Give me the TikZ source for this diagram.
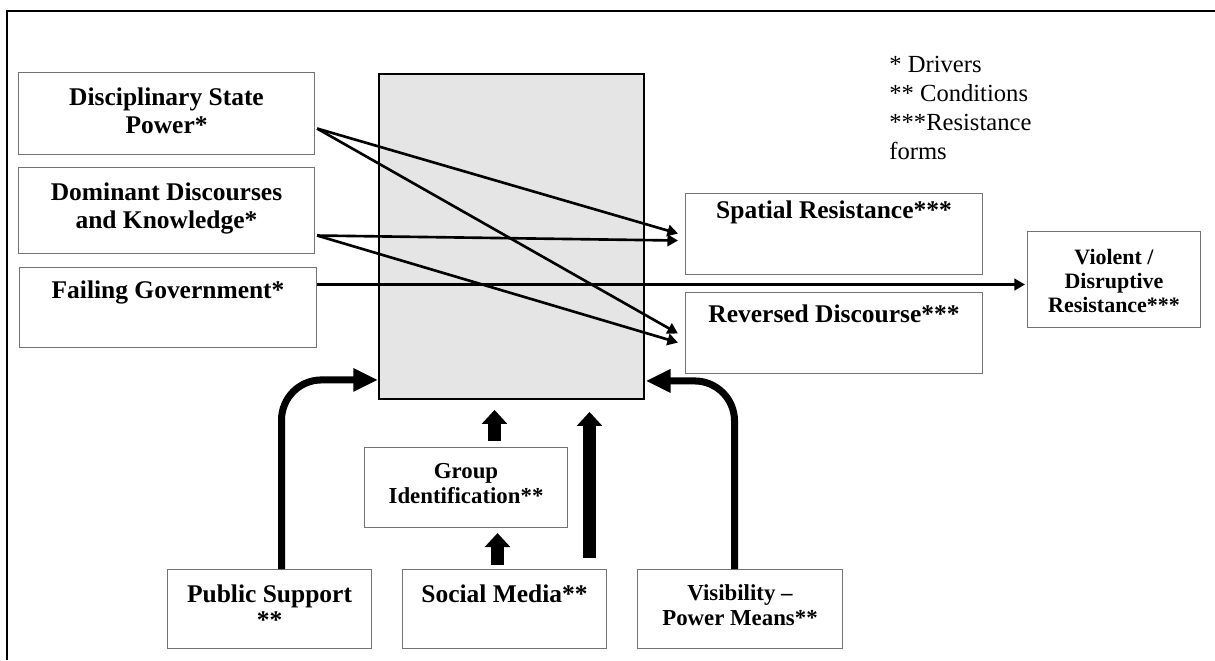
\documentclass[tikz,border=0pt]{standalone}
\usepackage{fontspec}
\setmainfont{Liberation Serif}
\usetikzlibrary{arrows.meta,calc}

% one drawing unit
\newdimen\pxu \pxu=0.02cm
% box contents: width, height, first baseline, line skip, text (top aligned)
\newcommand\bxt[5]{\parbox[c][#2\pxu][t]{#1\pxu}{\centering
  \baselineskip=#4\pxu\relax\rule{0pt}{#3\pxu}#5\par}}

\tikzset{
  box/.style={draw=black!55, line width=0.6pt, inner sep=0pt, anchor=north west},
  corebox/.style={draw=black, line width=1.1pt, fill=black!10, inner sep=0pt,
    anchor=north west},
  thinarrow/.style={line width=1.5pt, -{Triangle[length=6pt,width=6.5pt]}},
  curvearrow/.style={line width=4pt, rounded corners=0.8cm,
    -{Triangle[length=14pt,width=12.5pt]}},
  blockarrow/.style={line width=7pt, -{Triangle[length=8pt,width=14.2pt]}},
  big/.style={font=\fontsize{14.5}{16}\selectfont\bfseries},
  mid/.style={font=\fontsize{13}{15}\selectfont\bfseries},
  small/.style={font=\fontsize{12.5}{14}\selectfont\bfseries},
}

\begin{document}
\begin{tikzpicture}[x=0.02cm, y=-0.02cm]
\useasboundingbox (0,0) rectangle (1215,660);

% frame
\draw[line width=1.5pt] (1215,11) -- (7,11) -- (7,660);

% central box
\node[corebox, minimum width=265\pxu, minimum height=325\pxu] (core) at (378,73) {};

% drivers
\node[box, big] (dsp) at (18,72) {\bxt{296}{82}{33}{28}{Disciplinary State\\Power*}};
\node[box, big] (dom) at (18,167) {\bxt{296}{86}{33}{28}{Dominant Discourses\\and Knowledge*}};
\node[box, big] (fail) at (19,267) {\bxt{297}{80}{31}{28}{Failing Government*}};

% resistance forms
\node[box, big] (spat) at (685,193) {\bxt{297}{81}{25}{27}{Spatial Resistance***}};
\node[box, big] (rev) at (685,292) {\bxt{297}{81}{30}{27}{Reversed Discourse***}};
\node[box, small] (viol) at (1027,231) {\bxt{173}{96}{33}{24}{Violent /\\Disruptive\\Resistance***}};

% conditions
\node[box, mid] (grp) at (364,447) {\bxt{203}{80}{31}{25}{Group\\Identification**}};
\node[box, big] (pub) at (167,569) {\bxt{204}{79}{33}{26}{Public Support\\{}**}};
\node[box, big] (soc) at (402,569) {\bxt{204}{79}{33}{26}{Social Media**}};
\node[box, mid] (vis) at (637,569) {\bxt{205}{79}{31}{25}{Visibility --\\Power Means**}};

% legend
\node[anchor=north west, inner sep=0pt, align=left,
  font=\fontsize{14}{16.4}\selectfont] (legend) at (889,56)
  {* Drivers\\{}** Conditions\\{}***Resistance\\forms};

% drivers to resistance forms
\draw[thinarrow] ([shift={(2,15)}]dsp.east) -- ([shift={(-7,-0.5)}]spat.west);
\draw[thinarrow] ([shift={(2,15)}]dsp.east) -- ([shift={(-7,0.5)}]rev.west);
\draw[thinarrow] ([shift={(2,25)}]dom.east) -- ([shift={(-7,6.5)}]spat.west);
\draw[thinarrow] ([shift={(2,25)}]dom.east) -- ([shift={(-7,9.5)}]rev.west);
\draw[thinarrow] ([shift={(0,-23)}]fail.east) -- ([shift={(-2,5)}]viol.west);

% conditions into the central box
\draw[curvearrow] ([shift={(12,0)}]pub.north) |- ([shift={(0,-20)}]core.south west);
\draw[curvearrow] ([shift={(-5.5,0)}]vis.north) |- ([shift={(1,-19)}]core.south east);
\draw[blockarrow] ([shift={(28.5,-6)}]grp.north) -- ($(grp.north |- core.south)+(28.5,10)$);
\draw[blockarrow] ([shift={(-7,-4)}]soc.north) -- ($(soc.north |- grp.south)+(-7,5)$);
\draw[blockarrow] ([shift={(85,-11)}]soc.north) -- ($(soc.north |- core.south)+(85,12)$);
\end{tikzpicture}
\end{document}
